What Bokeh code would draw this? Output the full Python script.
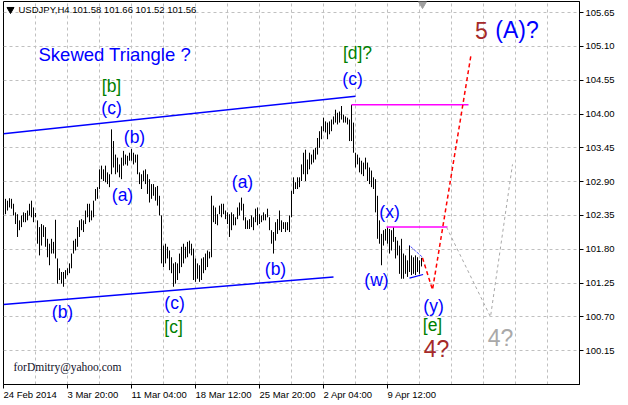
from bokeh.plotting import figure
from bokeh.models import Range1d, FixedTicker, PrintfTickFormatter
from bokeh.embed import file_html
from bokeh.resources import INLINE
from bokeh.core.properties import value

# ---------------- data ----------------
symbol = "USDJPY,H4"
last_ohlc = [101.58, 101.66, 101.52, 101.56]

highs = [
    102.62, 102.59, 102.63, 102.62, 102.54, 102.40, 102.37, 102.27, 102.35, 102.40,
    102.39, 102.43, 102.54, 102.59, 102.48, 102.39, 102.27, 102.16, 102.21, 102.19,
    102.16, 101.97, 101.89, 101.97, 101.92, 102.28, 101.65, 101.49, 101.43, 101.43,
    101.46, 101.49, 101.57, 101.73, 101.94, 101.97, 102.16, 102.27, 102.29, 102.27,
    102.43, 102.54, 102.54, 102.43, 102.59, 102.78, 102.81, 103.10, 103.16, 103.10,
    103.16, 103.05, 103.02, 103.75, 103.56, 103.34, 103.29, 103.18, 103.29, 103.40,
    103.34, 103.32, 103.37, 103.43, 103.37, 103.34, 103.34, 103.05, 103.02, 103.08,
    103.10, 103.02, 102.94, 102.86, 102.86, 102.81, 102.83, 102.67, 102.35, 101.86,
    101.89, 101.84, 101.78, 101.67, 101.57, 101.59, 101.57, 101.73, 101.84, 101.89,
    101.84, 101.92, 101.94, 101.89, 101.81, 101.65, 101.57, 101.54, 101.65, 101.67,
    101.73, 101.78, 101.76, 102.67, 102.51, 102.48, 102.37, 102.51, 102.54, 102.54,
    102.43, 102.40, 102.37, 102.40, 102.37, 102.32, 102.48, 102.56, 102.64, 102.54,
    102.32, 102.27, 102.29, 102.35, 102.32, 102.46, 102.48, 102.37, 102.35, 102.40,
    102.37, 102.46, 102.32, 102.11, 102.08, 102.24, 102.29, 102.43, 102.27, 102.24,
    102.24, 102.24, 102.35, 102.75, 102.97, 102.89, 102.97, 102.97, 103.18, 103.37,
    103.42, 103.26, 103.37, 103.34, 103.42, 103.45, 103.61, 103.72, 103.80, 103.94,
    103.88, 103.86, 103.88, 103.91, 103.96, 104.07, 104.02, 104.04, 104.13, 103.99,
    103.96, 103.94, 103.91, 104.15, 103.86, 103.37, 103.34, 103.29, 103.24, 103.21,
    103.29, 103.21, 103.13, 103.08, 102.97, 102.94, 102.67, 102.27, 102.05, 102.11,
    102.13, 102.16, 102.13, 102.11, 102.16, 102.00, 101.94, 101.86, 101.97, 101.73,
    101.70, 101.62, 101.86, 101.70, 101.67, 101.70, 101.67, 101.62, 101.66,
]
lows = [
    102.37, 102.43, 102.48, 102.46, 102.35, 102.21, 102.00, 102.11, 102.16, 102.24,
    102.24, 102.27, 102.35, 102.32, 102.24, 102.32, 101.89, 101.70, 101.86, 102.00,
    101.84, 101.67, 101.54, 101.73, 101.73, 101.65, 101.24, 101.30, 101.24, 101.19,
    101.32, 101.38, 101.41, 101.49, 101.73, 101.78, 101.84, 102.00, 102.11, 102.08,
    102.21, 102.32, 102.24, 102.27, 102.32, 102.59, 102.62, 102.78, 102.94, 102.91,
    102.89, 102.86, 102.81, 103.02, 103.13, 103.02, 103.05, 102.97, 102.94, 103.16,
    103.18, 103.16, 103.24, 103.24, 103.18, 103.21, 103.02, 102.86, 102.78, 102.91,
    102.86, 102.70, 102.56, 102.62, 102.67, 102.59, 102.51, 102.35, 101.57, 101.51,
    101.57, 101.65, 101.46, 101.41, 101.19, 101.24, 101.30, 101.41, 101.51, 101.57,
    101.65, 101.67, 101.73, 101.70, 101.30, 101.27, 101.32, 101.27, 101.30, 101.41,
    101.46, 101.51, 101.65, 101.67, 102.24, 102.21, 102.19, 102.37, 102.32, 102.37,
    102.29, 102.21, 102.00, 102.11, 102.19, 102.19, 102.29, 102.35, 102.43, 102.27,
    102.13, 102.13, 102.13, 102.16, 102.11, 102.24, 102.19, 102.21, 102.24, 102.27,
    102.27, 102.32, 102.11, 101.89, 101.73, 101.94, 102.05, 102.11, 102.08, 102.13,
    102.08, 102.11, 102.08, 102.32, 102.70, 102.78, 102.78, 102.81, 102.91, 103.02,
    102.91, 103.02, 103.10, 103.18, 103.21, 103.26, 103.34, 103.45, 103.59, 103.72,
    103.70, 103.59, 103.67, 103.72, 103.83, 103.86, 103.83, 103.86, 103.91, 103.86,
    103.86, 103.83, 103.56, 103.56, 103.37, 103.13, 103.18, 103.05, 103.02, 102.99,
    103.10, 102.91, 102.86, 102.81, 102.78, 102.40, 101.97, 101.89, 101.54, 101.86,
    101.94, 101.89, 101.73, 101.78, 101.92, 101.65, 101.70, 101.40, 101.32, 101.32,
    101.40, 101.35, 101.43, 101.38, 101.40, 101.38, 101.43, 101.40, 101.52,
]
bar_index = list(range(len(highs)))

price_ticks = [100.15, 100.70, 101.25, 101.80, 102.35, 102.90, 103.45,
               104.00, 104.55, 105.10, 105.65]
date_tick_bars = [-1, 31, 63, 95, 127, 159, 191]
date_tick_labels = ["24 Feb 2014", "3 Mar 20:00", "11 Mar 04:00", "18 Mar 12:00",
                    "25 Mar 20:00", "2 Apr 04:00", "9 Apr 12:00"]
grid_bars = [-1 + 16 * k for k in range(19)]

# annotation lines (bar index, price)
upper_trend_x = [-1, 175]
upper_trend_y = [103.68, 104.29]
lower_trend_x = [-1, 164]
lower_trend_y = [100.90, 101.35]
c_level_x = [173, 231.5]
c_level_y = [104.15, 104.15]
x_level_x = [190.5, 221]
x_level_y = [102.16, 102.16]
tri_top_x = [202, 208.5]
tri_top_y = [101.86, 101.67]
tri_bot_x = [202, 208.8]
tri_bot_y = [101.33, 101.39]
red_path_x = [208.5, 213.5, 232.8]
red_path_y = [101.66, 101.14, 104.97]
gray_path_x = [220.5, 242.5, 253.5]
gray_path_y = [102.16, 100.70, 103.18]

# ---------------- figure ----------------
p = figure(frame_width=576, frame_height=383,
           x_range=Range1d(-1, 287), y_range=Range1d(99.60, 105.83),
           output_backend="svg", toolbar_location=None, y_axis_location="right",
           min_border_left=3, min_border_top=1, min_border_right=0, min_border_bottom=0)
p.background_fill_color = "white"
p.border_fill_color = "white"
p.outline_line_color = "black"
p.outline_line_width = 1

FONT = "Liberation Sans"

# axes
p.yaxis.ticker = FixedTicker(ticks=price_ticks)
p.yaxis.formatter = PrintfTickFormatter(format="%.2f")
p.xaxis.ticker = FixedTicker(ticks=date_tick_bars)
p.xaxis.major_label_overrides = {t: l for t, l in zip(date_tick_bars, date_tick_labels)}
for ax in (p.xaxis, p.yaxis):
    ax.axis_line_color = "black"
    ax.major_tick_line_color = "black"
    ax.major_tick_out = 4
    ax.major_tick_in = 0
    ax.minor_tick_out = 0
    ax.minor_tick_in = 0
    ax.major_label_text_font = FONT
    ax.major_label_text_font_size = "9.5px"
    ax.major_label_text_color = "black"
    ax.major_label_standoff = 2
    ax.axis_label_standoff = 0
# a tiny negative angle makes Bokeh anchor the date labels by their left edge
p.xaxis.major_label_orientation = -1e-6
p.xaxis.major_label_standoff = 6

# grid
p.xgrid.ticker = FixedTicker(ticks=grid_bars)
for g in (p.xgrid, p.ygrid):
    g.grid_line_color = "#C0C0C0"
    g.grid_line_dash = "3 3"
    g.grid_line_width = 1

# bars
p.segment(x0=bar_index, y0=lows, x1=bar_index, y1=highs, line_color="black", line_width=1)

# trend / level lines
p.line(upper_trend_x, upper_trend_y, line_color="#0000FF", line_width=1.5)
p.line(lower_trend_x, lower_trend_y, line_color="#0000FF", line_width=1.5)
p.line(c_level_x, c_level_y, line_color="#FF00FF", line_width=1.5)
p.line(x_level_x, x_level_y, line_color="#FF00FF", line_width=1.5)
p.line(tri_top_x, tri_top_y, line_color="#0000FF", line_width=1, line_dash="1 1")
p.line(tri_bot_x, tri_bot_y, line_color="#0000FF", line_width=1.2)
p.line(red_path_x, red_path_y, line_color="#FF0000", line_width=1.5, line_dash="4 3")
p.line(gray_path_x, gray_path_y, line_color="#A8A8A8", line_width=1, line_dash="3 3")


def label(x, y, txt, color, size="17.5px", align="center", font=FONT):
    p.text(x=[x], y=[y], text=[txt], text_color=color, text_font=value(font),
           text_font_size=size, text_align=align, text_baseline="middle")


BLUE = "#0000FF"
GREEN = "#008000"
BROWN = "#A52A2A"

# header
p.scatter(x=[2.5], y=[105.70], marker="inverted_triangle", size=7, color="black")
p.scatter(x=[208.5], y=[105.79], marker="inverted_triangle", size=8, color="#A0A0A0")
label(6.5, 105.70, symbol + "  " + " ".join(f"{v:.2f}" for v in last_ohlc), "black",
      size="9.5px", align="left")

label(16.5, 104.975, "Skewed Triangle ?", BLUE, size="18.5px", align="left")
label(53, 104.46, "[b]", GREEN)
label(53, 104.10, "(c)", BLUE)
label(64.5, 103.63, "(b)", BLUE)
label(58.5, 102.68, "(a)", BLUE)
label(28.5, 100.785, "(b)", BLUE)
label(84.5, 100.93, "(c)", BLUE)
label(84, 100.54, "[c]", GREEN)
label(118.5, 102.886, "(a)", BLUE)
label(135, 101.48, "(b)", BLUE)
label(176, 105.00, "[d]?", GREEN)
label(173.5, 104.567, "(c)", BLUE)
label(192, 102.40, "(x)", BLUE)
label(185.5, 101.30, "(w)", BLUE)
label(214, 100.88, "(y)", BLUE)
label(213.5, 100.56, "[e]", GREEN)
label(215.5, 100.17, "4?", BROWN, size="23px")
label(247.5, 100.35, "4?", "#A9A9A9", size="23px")
label(238, 105.36, "5", BROWN, size="23px")
label(255.75, 105.36, "(A)?", BLUE, size="23px")
label(4, 99.88, "forDmitry@yahoo.com", "#101028", size="11.5px", align="left",
      font="Liberation Serif")

open("out.html", "w").write(file_html(p, INLINE))
